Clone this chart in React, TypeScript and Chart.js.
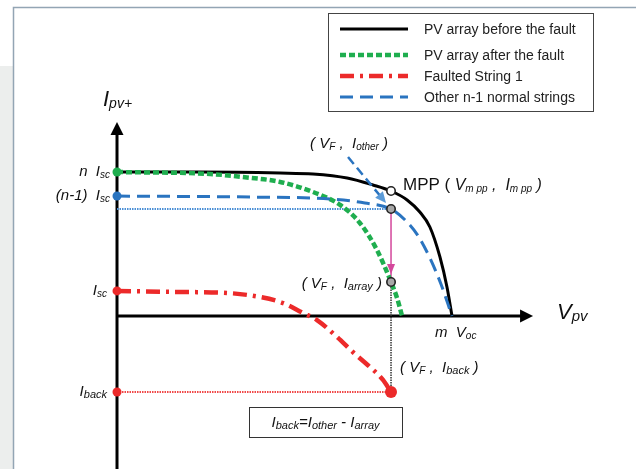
import React, { useEffect, useRef } from "react";
import { Chart, registerables } from "chart.js";
Chart.register(...registerables);

const W = 636;
const H = 469;

// V in % of m·Voc, I in % of n·Isc (schematic units)
const blackV = [0, 24.8, 48.7, 58.5, 68.7, 76.4, 81.8, 86.6, 90.4, 93.4, 96.4, 98.5, 100];
const blackI = [100, 100, 99.3, 98.6, 95.8, 91, 86.8, 80.6, 72.2, 61.8, 41, 20.1, 0];

const greenV = [0, 27.8, 37.6, 48.7, 58.5, 66.6, 72.5, 77.6, 81.8, 83.6, 85.1];
const greenI = [100, 98.6, 96.5, 93.1, 86.1, 77.1, 64.6, 45.8, 23.6, 12.5, 0];

const redV = [0, 17.9, 32.8, 42.7, 49.6, 55.5, 59.7, 65.7, 70.4, 75.5, 79.4, 81.8];
const redI = [17.4, 16.7, 16, 13.2, 9, 2.1, -2.8, -14.6, -25, -35.4, -44.4, -52.8];

const blueV = [0, 39.7, 63.6, 74, 81.8, 86, 89.9, 93.4, 96.7, 100];
const blueI = [83.3, 82.6, 81.3, 78.5, 74.3, 66.7, 55.6, 40.3, 22.2, 0];

// key levels
const N_ISC = 100;
const N1_ISC = 83.3;
const ISC = 17.4;
const I_BACK = -52.8;
const V_F = 81.8;
const I_MPP = 86.8;
const I_OTHER = 74.3;
const I_ARRAY = 23.6;
const M_VOC = 100;
const V_AXIS_END = 124.2;
const I_AXIS_END = 134.7;

const legendLabels = [
  "PV array before the fault",
  "PV array after the fault",
  "Faulted String 1",
  "Other n-1 normal strings",
];

const X_MIN = -34.93;
const X_MAX = 154.93;
const Y_MIN = -106.25;
const Y_MAX = 219.44;

const C_BLACK = "#000000";
const C_GREEN = "#1fae4f";
const C_RED = "#ec2a2a";
const C_BLUE = "#2a74c0";
const C_PINK = "#d4489c";

const FONT = '"Liberation Sans", Arial, sans-serif';

type Run = { t: string; s: number; i?: boolean; dy?: number };

function drawRuns(ctx: CanvasRenderingContext2D, x: number, y: number, runs: Run[], align: "left" | "right" | "center") {
  const f = (r: Run) => `${r.i ? "italic " : ""}${r.s}px ${FONT}`;
  let total = 0;
  for (const r of runs) {
    ctx.font = f(r);
    total += ctx.measureText(r.t).width;
  }
  let cx = align === "left" ? x : align === "right" ? x - total : x - total / 2;
  ctx.textAlign = "left";
  ctx.textBaseline = "alphabetic";
  for (const r of runs) {
    ctx.font = f(r);
    ctx.fillText(r.t, cx, y + (r.dy || 0));
    cx += ctx.measureText(r.t).width;
  }
}

function pts(xs: number[], ys: number[]) {
  return xs.map((x, i) => ({ x, y: ys[i] }));
}

const decor = {
  id: "decor",
  beforeDraw(chart: any) {
    const ctx: CanvasRenderingContext2D = chart.ctx;
    ctx.save();
    ctx.fillStyle = "#ffffff";
    ctx.fillRect(0, 0, W, H);
    ctx.fillStyle = "#eceeed";
    ctx.fillRect(0, 66, 13, H - 66);
    ctx.strokeStyle = "#93a5b4";
    ctx.lineWidth = 1.5;
    ctx.beginPath();
    ctx.moveTo(13.5, H);
    ctx.lineTo(13.5, 7.5);
    ctx.lineTo(W, 7.5);
    ctx.stroke();
    ctx.restore();
  },
  beforeDatasetsDraw(chart: any) {
    const ctx: CanvasRenderingContext2D = chart.ctx;
    const xs = chart.scales.x, ys = chart.scales.y;
    const x0 = xs.getPixelForValue(0), y0 = ys.getPixelForValue(0);
    const yTip = ys.getPixelForValue(I_AXIS_END);
    const xTip = xs.getPixelForValue(V_AXIS_END);
    ctx.save();
    ctx.strokeStyle = C_BLACK;
    ctx.fillStyle = C_BLACK;
    ctx.lineWidth = 3;
    ctx.beginPath();
    ctx.moveTo(x0, H);
    ctx.lineTo(x0, yTip + 10);
    ctx.stroke();
    ctx.beginPath();
    ctx.moveTo(x0, yTip);
    ctx.lineTo(x0 - 6.5, yTip + 13);
    ctx.lineTo(x0 + 6.5, yTip + 13);
    ctx.closePath();
    ctx.fill();
    ctx.beginPath();
    ctx.moveTo(x0, y0);
    ctx.lineTo(xTip - 10, y0);
    ctx.stroke();
    ctx.beginPath();
    ctx.moveTo(xTip, y0);
    ctx.lineTo(xTip - 13, y0 - 6.5);
    ctx.lineTo(xTip - 13, y0 + 6.5);
    ctx.closePath();
    ctx.fill();
    ctx.restore();
  },
  afterDatasetsDraw(chart: any) {
    const ctx: CanvasRenderingContext2D = chart.ctx;
    const xs = chart.scales.x, ys = chart.scales.y;
    const xp = (v: number) => xs.getPixelForValue(v);
    const yp = (v: number) => ys.getPixelForValue(v);
    const x0 = xp(0);
    const xF = xp(V_F);
    ctx.save();

    // pink arrowhead
    const yArrTip = yp(I_ARRAY) - 8;
    ctx.fillStyle = C_PINK;
    ctx.beginPath();
    ctx.moveTo(xF, yArrTip);
    ctx.lineTo(xF - 4, yArrTip - 10);
    ctx.lineTo(xF + 4, yArrTip - 10);
    ctx.closePath();
    ctx.fill();

    // blue pointer arrow to (VF, Iother)
    const ax1 = xF - 43, ay1 = yp(I_OTHER) - 52;
    const ax2 = xF - 5, ay2 = yp(I_OTHER) - 6;
    const ang = Math.atan2(ay2 - ay1, ax2 - ax1);
    ctx.strokeStyle = C_BLUE;
    ctx.lineWidth = 2.5;
    ctx.setLineDash([9, 5]);
    ctx.beginPath();
    ctx.moveTo(ax1, ay1);
    ctx.lineTo(ax2 - 8 * Math.cos(ang), ay2 - 8 * Math.sin(ang));
    ctx.stroke();
    ctx.setLineDash([]);
    ctx.fillStyle = "#5b9bd8";
    ctx.beginPath();
    ctx.moveTo(ax2, ay2);
    ctx.lineTo(ax2 - 11 * Math.cos(ang) + 5 * Math.sin(ang), ay2 - 11 * Math.sin(ang) - 5 * Math.cos(ang));
    ctx.lineTo(ax2 - 11 * Math.cos(ang) - 5 * Math.sin(ang), ay2 - 11 * Math.sin(ang) + 5 * Math.cos(ang));
    ctx.closePath();
    ctx.fill();

    // labels
    ctx.fillStyle = "#111111";
    drawRuns(ctx, x0 - 14, yp(I_AXIS_END) - 16, [
      { t: "I", s: 22, i: true },
      { t: "pv+", s: 14, i: true, dy: 2 },
    ], "left");
    drawRuns(ctx, xp(V_AXIS_END) + 24, yp(0) + 3, [
      { t: "V", s: 22, i: true },
      { t: "pv", s: 15, i: true, dy: 2 },
    ], "left");
    drawRuns(ctx, x0 - 7, yp(N_ISC) + 4, [
      { t: "n  I", s: 15, i: true },
      { t: "sc", s: 10, i: true, dy: 2 },
    ], "right");
    drawRuns(ctx, x0 - 7, yp(N1_ISC) + 4, [
      { t: "(n-1)  I", s: 15, i: true },
      { t: "sc", s: 10, i: true, dy: 2 },
    ], "right");
    drawRuns(ctx, x0 - 10, yp(ISC) + 4, [
      { t: "I", s: 15, i: true },
      { t: "sc", s: 10, i: true, dy: 2 },
    ], "right");
    drawRuns(ctx, x0 - 10, yp(I_BACK) + 4, [
      { t: "I", s: 15, i: true },
      { t: "back", s: 11, i: true, dy: 2 },
    ], "right");
    drawRuns(ctx, xF - 81, yp(I_OTHER) - 61, [
      { t: "( V", s: 15, i: true },
      { t: "F", s: 10, i: true, dy: 2 },
      { t: " ,  I", s: 15, i: true },
      { t: "other", s: 10, i: true, dy: 2 },
      { t: " )", s: 15, i: true },
    ], "left");
    drawRuns(ctx, xF + 12, yp(I_MPP) - 1, [
      { t: "MPP (", s: 17 },
      { t: " V", s: 16, i: true },
      { t: "m pp", s: 10, i: true, dy: 2 },
      { t: " ,  I", s: 16, i: true },
      { t: "m pp", s: 10, i: true, dy: 2 },
      { t: " )", s: 16, i: true },
    ], "left");
    drawRuns(ctx, xF - 9, yp(I_ARRAY) + 6, [
      { t: "( V", s: 15, i: true },
      { t: "F", s: 10, i: true, dy: 2 },
      { t: " ,  I", s: 15, i: true },
      { t: "array", s: 11, i: true, dy: 2 },
      { t: " )", s: 15, i: true },
    ], "right");
    drawRuns(ctx, xp(M_VOC) - 17, yp(0) + 21, [
      { t: "m  V", s: 15, i: true },
      { t: "oc", s: 10, i: true, dy: 2 },
    ], "left");
    drawRuns(ctx, xF + 9, yp(I_BACK) - 20, [
      { t: "( V", s: 15, i: true },
      { t: "F", s: 10, i: true, dy: 2 },
      { t: " ,  I", s: 15, i: true },
      { t: "back", s: 11, i: true, dy: 2 },
      { t: " )", s: 15, i: true },
    ], "left");

    // formula box
    const bx = xF - 142, by = yp(I_BACK) + 15;
    ctx.strokeStyle = "#333333";
    ctx.lineWidth = 1;
    ctx.strokeRect(Math.round(bx) + 0.5, Math.round(by) + 0.5, 153, 30);
    ctx.fillStyle = "#111111";
    drawRuns(ctx, bx + 76.5, by + 20, [
      { t: "I", s: 15, i: true },
      { t: "back", s: 11, i: true, dy: 2 },
      { t: "=I", s: 15, i: true },
      { t: "other", s: 11, i: true, dy: 2 },
      { t: " - I", s: 15, i: true },
      { t: "array", s: 11, i: true, dy: 2 },
    ], "center");

    // legend
    ctx.fillStyle = "#ffffff";
    ctx.fillRect(328.5, 13.5, 265, 98);
    ctx.strokeStyle = "#444444";
    ctx.lineWidth = 1;
    ctx.strokeRect(328.5, 13.5, 265, 98);
    const rows = [29, 55, 76, 97];
    const ds = chart.data.datasets;
    for (let k = 0; k < 4; k++) {
      const d = ds[k];
      ctx.strokeStyle = d.borderColor;
      ctx.lineWidth = d.borderWidth;
      ctx.setLineDash(d.borderDash || []);
      ctx.beginPath();
      ctx.moveTo(340, rows[k]);
      ctx.lineTo(408, rows[k]);
      ctx.stroke();
      ctx.setLineDash([]);
      ctx.fillStyle = "#222222";
      drawRuns(ctx, 424, rows[k] + 5, [{ t: legendLabels[k], s: 14 }], "left");
    }
    ctx.restore();
  },
};

export default function App() {
  const ref = useRef<HTMLCanvasElement>(null);
  useEffect(() => {
    const canvas = ref.current!;
    const curve = (label: string, xsArr: number[], ysArr: number[], color: string, width: number, dash: number[], order: number) => ({
      label,
      data: pts(xsArr, ysArr),
      showLine: true,
      borderColor: color,
      borderWidth: width,
      borderDash: dash,
      pointRadius: 0,
      cubicInterpolationMode: "monotone" as const,
      fill: false,
      order,
    });
    const guide = (data: { x: number; y: number }[], color: string, width: number, dash: number[], order: number) => ({
      label: "",
      data,
      showLine: true,
      borderColor: color,
      borderWidth: width,
      borderDash: dash,
      pointRadius: 0,
      fill: false,
      tension: 0,
      order,
    });
    const chart = new Chart(canvas, {
      type: "scatter",
      data: {
        datasets: [
          curve(legendLabels[0], blackV, blackI, C_BLACK, 3, [], 5),
          curve(legendLabels[1], greenV, greenI, C_GREEN, 4.5, [6, 3], 4),
          curve(legendLabels[2], redV, redI, C_RED, 4.5, [14, 6, 3, 6], 4),
          curve(legendLabels[3], blueV, blueI, C_BLUE, 3, [13, 7], 3),
          guide([{ x: 0, y: I_OTHER }, { x: V_F, y: I_OTHER }], "#4a8fd6", 2, [1.5, 1], 6),
          guide([{ x: 0, y: I_BACK }, { x: V_F, y: I_BACK }], "#f04848", 2, [1.5, 1], 6),
          guide([{ x: V_F, y: I_ARRAY }, { x: V_F, y: I_BACK }], "#333333", 1.5, [1.5, 1], 6),
          guide([{ x: V_F, y: I_OTHER }, { x: V_F, y: I_ARRAY }], C_PINK, 1.5, [], 6),
          {
            label: "",
            data: [
              { x: 0, y: N_ISC },
              { x: 0, y: N1_ISC },
              { x: 0, y: ISC },
              { x: 0, y: I_BACK },
            ],
            pointRadius: 4.5,
            pointBackgroundColor: [C_GREEN, C_BLUE, C_RED, C_RED],
            pointBorderWidth: 0,
            pointBorderColor: "rgba(0,0,0,0)",
            order: 1,
          },
          {
            label: "",
            data: [
              { x: V_F, y: I_MPP },
              { x: V_F, y: I_OTHER },
              { x: V_F, y: I_ARRAY },
            ],
            pointRadius: 4.2,
            pointBackgroundColor: ["#ffffff", "#a8a8a8", "#a8a8a8"],
            pointBorderColor: "#222222",
            pointBorderWidth: 1.6,
            order: 0,
          },
          {
            label: "",
            data: [{ x: V_F, y: I_BACK }],
            pointRadius: 6,
            pointBackgroundColor: C_RED,
            pointBorderWidth: 0,
            order: 0,
          },
        ],
      },
      options: {
        responsive: false,
        animation: false,
        devicePixelRatio: 1,
        layout: { padding: 0, autoPadding: false },
        plugins: {
          legend: { display: false },
          tooltip: { enabled: false },
        },
        events: [],
        scales: {
          x: { type: "linear", min: X_MIN, max: X_MAX, display: false },
          y: { type: "linear", min: Y_MIN, max: Y_MAX, display: false },
        },
      },
      plugins: [decor as any],
    });
    return () => chart.destroy();
  }, []);
  return (
    <div style={{ position: "absolute", left: 0, top: 0, width: W, height: H }}>
      <canvas ref={ref} width={W} height={H} style={{ width: W, height: H, display: "block" }} />
    </div>
  );
}
